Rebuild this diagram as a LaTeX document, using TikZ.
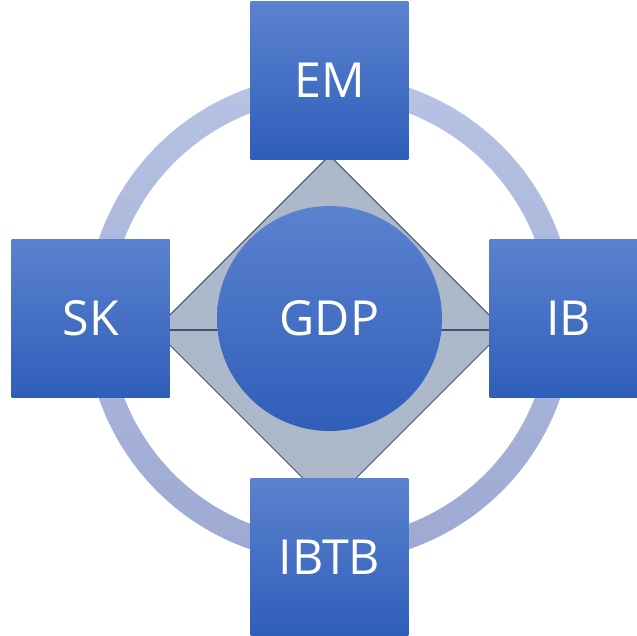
\documentclass[tikz,border=0pt]{standalone}
\usepackage{fontspec}
\newfontfamily\labelfont{Open Sans}
\usetikzlibrary{shapes.geometric}

\definecolor{boxtop}{HTML}{5B82CE}
\definecolor{boxbot}{HTML}{2F5EB9}
\definecolor{ringtop}{HTML}{B6C3E3}
\definecolor{ringbot}{HTML}{9DA9D2}
\definecolor{diafill}{HTML}{ADB9CA}
\definecolor{diaedge}{HTML}{3F5370}

\tikzset{
  block/.style={rectangle, minimum size=3.16cm, inner sep=0pt, top color=boxtop, bottom color=boxbot, text=white, font=\labelfont\fontsize{27.5}{33}\selectfont},
  hub/.style={circle, minimum size=4.5cm, inner sep=0pt, top color=boxtop, bottom color=boxbot, text=white, font=\labelfont\fontsize{27.5}{33}\selectfont},
}

\begin{document}
\begin{tikzpicture}[x=0.02cm, y=-0.02cm]
    \useasboundingbox (0,0) rectangle (637,636);

    % Ring
    \shade[top color=ringtop, bottom color=ringbot, even odd rule] (329.5,318.5) circle (244) (329.5,318.5) circle (220);

    % Diamond
    \node[diamond, draw=diaedge, line width=0.6pt, fill=diafill, minimum width=7cm, minimum height=7cm, inner sep=0pt] (dia) at (329.5,330) {};
    \draw[diaedge, line width=0.6pt] (dia.west) -- (dia.east);

    % Nodes
    \node[hub] (gdp) at (329.5,318.5) {GDP};
    \node[block] (em) at (329.5,80.5) {EM};
    \node[block] (sk) at (90.7,318.5) {SK};
    \node[block] (ib) at (568.5,318.5) {IB};
    \node[block] (ibtb) at (329.5,557) {IBTB};

\end{tikzpicture}
\end{document}
